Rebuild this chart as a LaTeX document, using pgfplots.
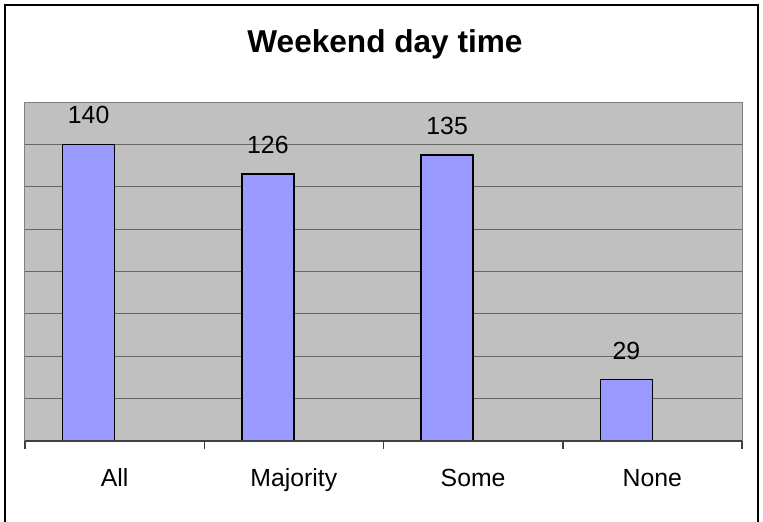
\documentclass[border=0pt]{standalone}
\usepackage{pgfplots}
\pgfplotsset{compat=1.18}
\usepackage{fontspec}
\setmainfont{Liberation Sans}
\definecolor{plotbg}{HTML}{C0C0C0}
\definecolor{barfill}{HTML}{9999FF}
\begin{document}
\begin{tikzpicture}
% 1px of the reference = 0.5pt
\useasboundingbox (0,0) rectangle (381.5pt,260.5pt);
\draw[line width=1pt] (2.5pt,-5pt) -- (2.5pt,258pt) -- (379pt,258pt) -- (379pt,-5pt);
\node[font=\fontsize{15.8}{18}\selectfont\bfseries] at (192.5pt,238.5pt) {Weekend day time};
\begin{axis}[
  at={(12.5pt,40pt)}, anchor=south west,
  scale only axis,
  width=358.5pt, height=169.5pt,
  xmin=-0.5, xmax=3.5,
  ymin=0, ymax=160,
  ytick={0,20,...,160},
  yticklabels={},
  ytick style={draw=none},
  ymajorgrids,
  grid style={line width=0.5pt, black!60},
  axis line style={line width=0.5pt, black!50},
  axis background/.style={fill=plotbg},
  xtick pos=bottom,
  xtick={0,1,2,3},
  xticklabels={All, Majority, Some, None},
  xtick style={draw=none},
  xticklabel style={anchor=base, inner sep=0pt, yshift=-18.5pt, font=\fontsize{12.4}{14}\selectfont},
  extra x ticks={-0.5,0.5,1.5,2.5,3.5},
  extra x tick labels={},
  extra x tick style={grid=none, tick align=outside, major tick length=4pt,
    xtick style={draw=black!75, line width=0.75pt}},
  ybar,
  bar width=26pt,
  bar shift=-13pt,
  nodes near coords,
  every node near coord/.append style={font=\fontsize{12.4}{14}\selectfont, anchor=south, inner sep=0pt, yshift=9.75pt, black},
  /pgf/number format/assume math mode=true,
  clip=false,
]
\addplot[fill=barfill, draw=black, line width=0.75pt] coordinates {(0,140) (1,126) (2,135) (3,29)};
\draw[line width=0.75pt, black!75] (rel axis cs:0,0) -- (rel axis cs:1,0);
\end{axis}
\end{tikzpicture}
\end{document}
